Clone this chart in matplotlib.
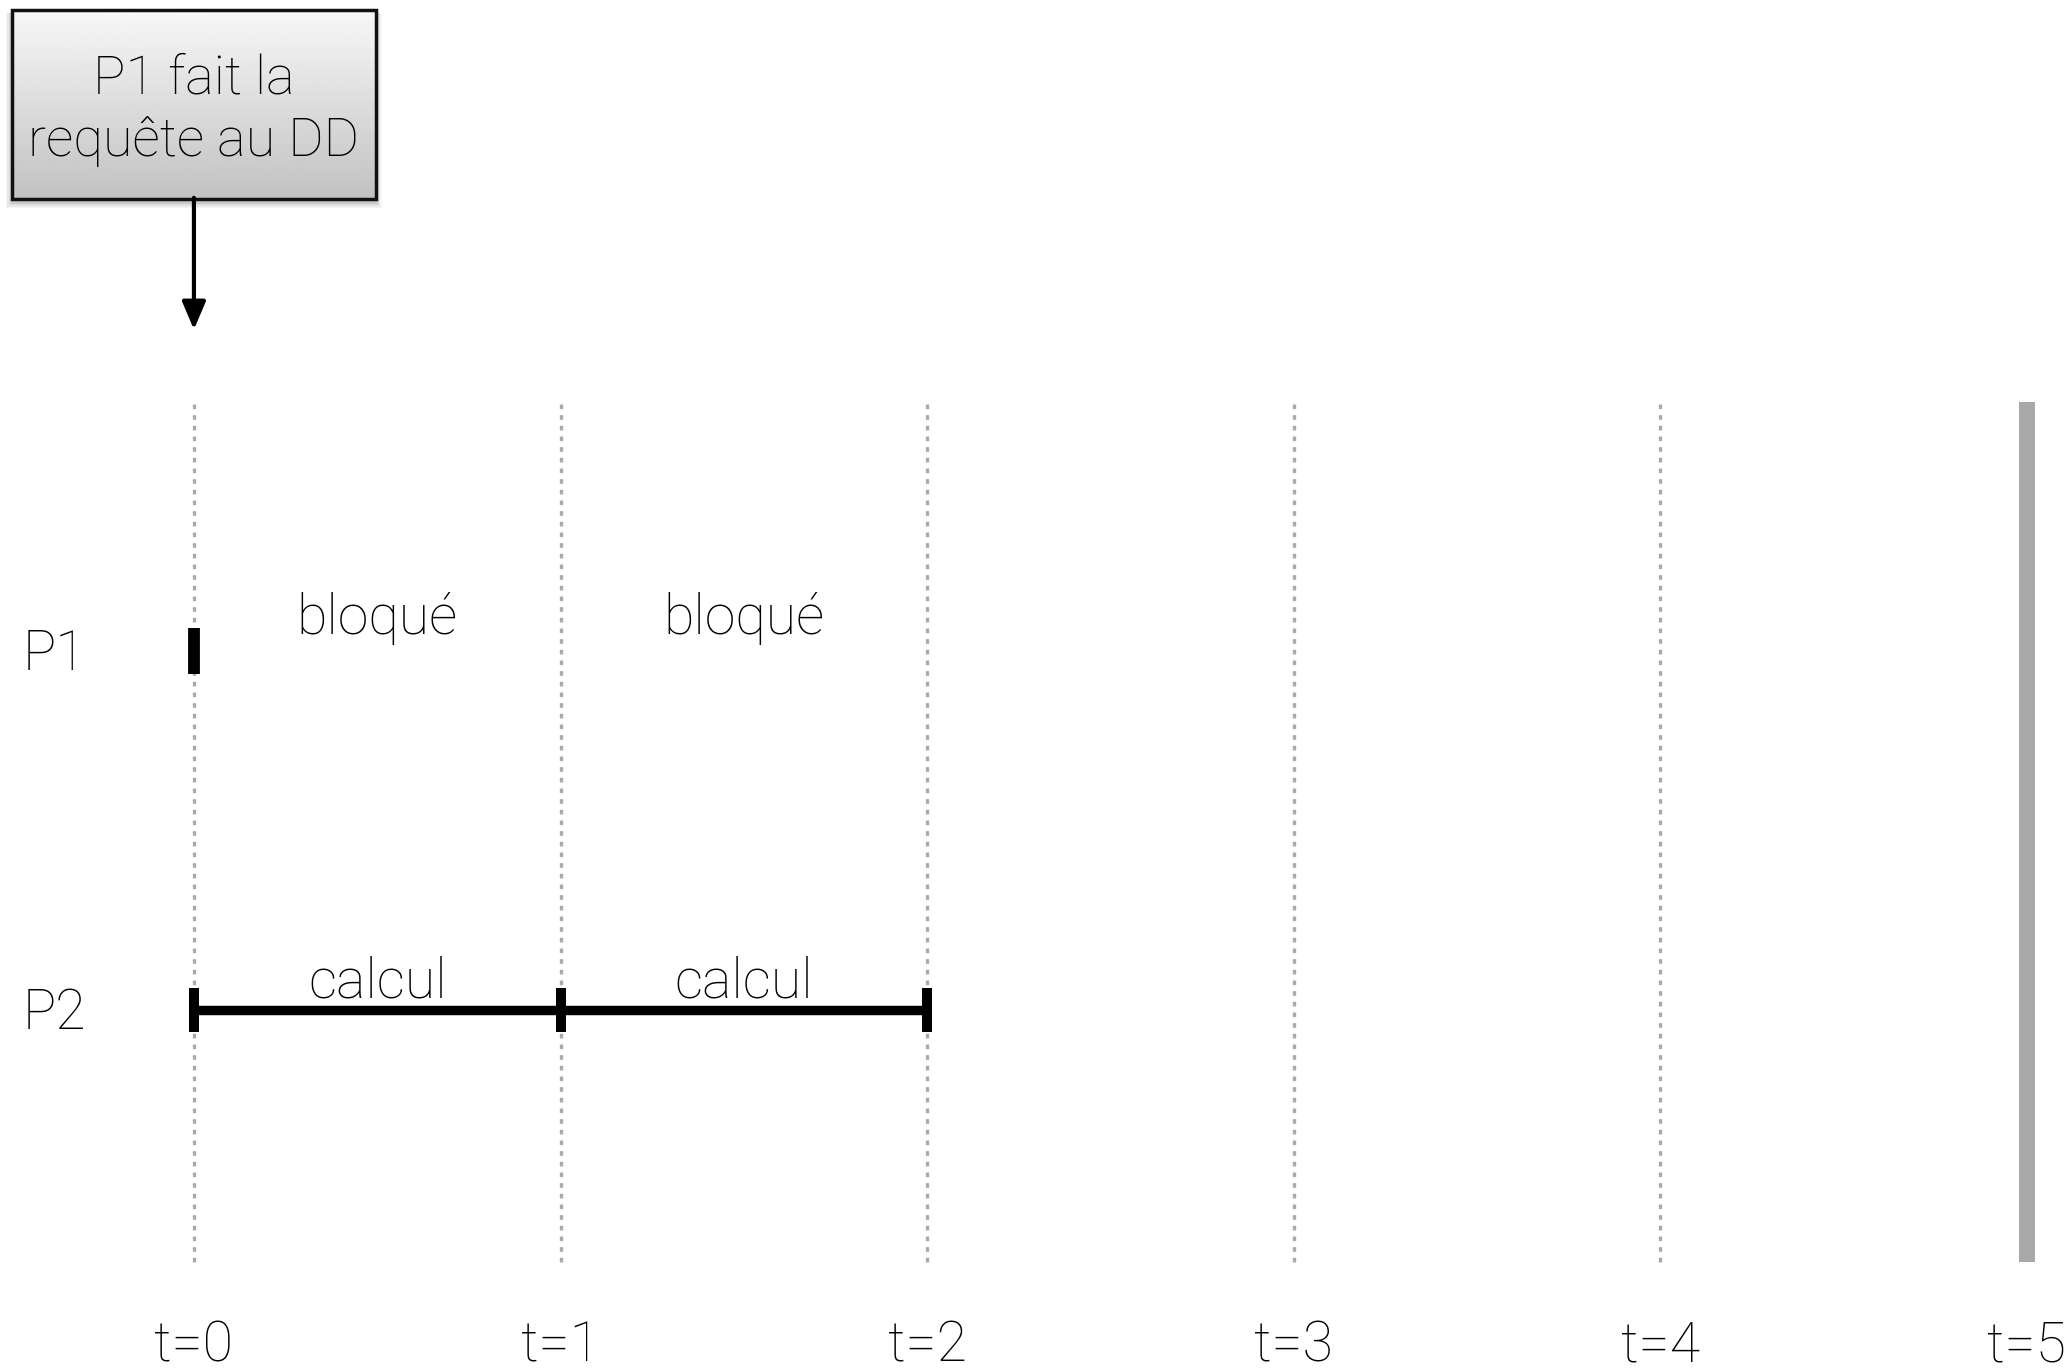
import matplotlib
matplotlib.use("Agg")
import matplotlib.pyplot as plt
import numpy as np
from matplotlib.patches import Rectangle
from matplotlib.transforms import blended_transform_factory

plt.rcParams["font.family"] = ["Roboto", "Lato", "DejaVu Sans"]
plt.rcParams["font.weight"] = "light"

# data
times = [0, 1, 2, 3, 4, 5]
tick_labels = ["t=0", "t=1", "t=2", "t=3", "t=4", "t=5"]
processes = ["P1", "P2"]
rows = {"P1": 1, "P2": 0}
p1_states = [(0, 1, "bloqué"), (1, 2, "bloqué")]
p2_states = [(0, 1, "calcul"), (1, 2, "calcul")]
p1_start_marks = [0]
event_time = 0
event_text = "P1 fait la\nrequête au DD"
current_time = 5

W, H, DPI = 2069, 1370, 100
fig = plt.figure(figsize=(W / DPI, H / DPI), dpi=DPI)
ax = fig.add_axes([0, 0, 1, 1])
ax.set_xlim(-0.529, 5.1146)
ax.set_ylim(-1.003, 2.813)
ax.axis("off")

fs = 40
grid_color = "#aaaaaa"

# dotted time lines (last one is the "now" bar)
for t in times:
    if t == current_time:
        ax.plot([t, t], [-0.702, 1.694], color="#a6a9a8", lw=11.5,
                solid_capstyle="butt", zorder=1)
    else:
        ax.plot([t, t], [-0.702, 1.694], color=grid_color, lw=2.4,
                linestyle=(0, (1.4, 1.8)), zorder=1)

for t, lab in zip(times, tick_labels):
    ax.text(t, -0.935, lab, ha="center", va="center", fontsize=fs)

# row labels
tr = blended_transform_factory(ax.transAxes, ax.transData)
for p in processes:
    ax.text(0.011, rows[p] - 0.01, p, transform=tr, ha="left", va="center", fontsize=fs)

# P2 running segments
tick_h = 0.062
for s, e, lab in p2_states:
    y = rows["P2"]
    ax.plot([s, e], [y, y], color="black", lw=6.8, solid_capstyle="butt", zorder=3)
    for x in (s, e):
        ax.plot([x, x], [y - tick_h, y + tick_h], color="black", lw=7.2,
                solid_capstyle="butt", zorder=4)
    ax.text((s + e) / 2, y + 0.078, lab, ha="center", va="center", fontsize=fs)

# P1 blocked
for s, e, lab in p1_states:
    ax.text((s + e) / 2, rows["P1"] + 0.09, lab, ha="center", va="center", fontsize=fs)
for x in p1_start_marks:
    ax.plot([x, x], [rows["P1"] - 0.063, rows["P1"] + 0.063], color="black", lw=8.5,
            solid_capstyle="butt", zorder=4)

# event box with gradient
bx0, bx1 = 12 / W, 376 / W
by0, by1 = 1 - 199 / H, 1 - 10 / H
for i, a in enumerate([0.04, 0.05, 0.06, 0.07]):
    off = (4 - i) * 1.5
    ax.add_patch(Rectangle((bx0 - off / W, by0 - (off + 3) / H),
                           bx1 - bx0 + 2 * off / W, by1 - by0 + off / H,
                           transform=ax.transAxes, facecolor="black", alpha=a,
                           edgecolor="none", zorder=5))
grad = np.linspace(0.97, 0.76, 256).reshape(-1, 1)
ax.imshow(grad, cmap="gray", vmin=0, vmax=1, aspect="auto",
          extent=(bx0, bx1, by0, by1), transform=ax.transAxes, zorder=6)
ax.add_patch(Rectangle((bx0, by0), bx1 - bx0, by1 - by0, transform=ax.transAxes,
                       facecolor="none", edgecolor="#111111", lw=2.5, zorder=7))
ax.text((bx0 + bx1) / 2, (by0 + by1) / 2 - 0.004, event_text, transform=ax.transAxes,
        ha="center", va="center", fontsize=fs - 1, linespacing=1.26, zorder=8)

# arrow from box to the event time
ax.annotate("", xy=(event_time, 1.895), xytext=(event_time, 2.262),
            arrowprops=dict(arrowstyle="-|>,head_length=0.85,head_width=0.36",
                            mutation_scale=20, color="black", lw=3.0,
                            shrinkA=0, shrinkB=0), zorder=8)

ax.set_xlim(-0.529, 5.1146)
ax.set_ylim(-1.003, 2.813)
fig.savefig("out.png", dpi=DPI)
